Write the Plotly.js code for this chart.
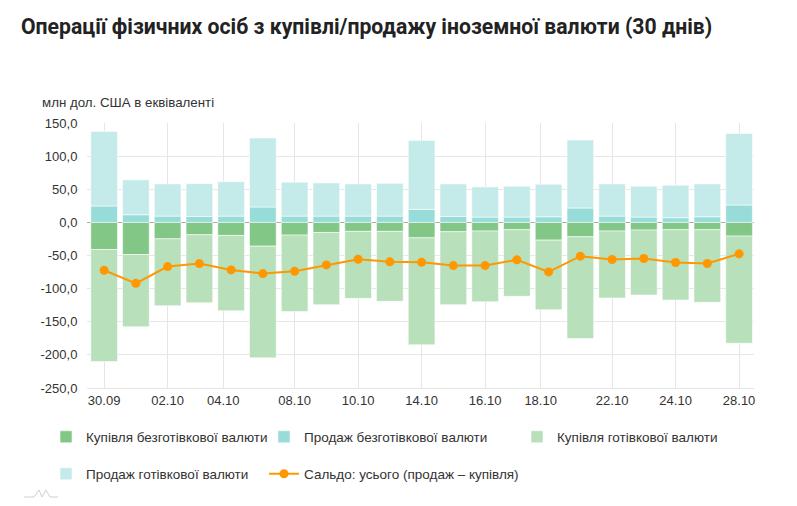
<!DOCTYPE html>
<html>
<head>
<meta charset="utf-8">
<script src="https://cdn.plot.ly/plotly-3.0.1.min.js"></script>
<style>
html,body{margin:0;padding:0;background:#fff;}
#chart{width:797px;height:506px;}
</style>
</head>
<body>
<div id="chart"></div>
<script>
// Trading days (30 days window)
const dates = ['30.09','01.10','02.10','03.10','04.10','07.10','08.10','09.10','10.10','11.10',
  '14.10','15.10','16.10','17.10','18.10','21.10','22.10','23.10','24.10','25.10','28.10'];

// Купівля безготівкової валюти (negative = purchase)
const buyCashless = [-40.9,-48.5,-24.8,-18.7,-19.7,-35.9,-19.2,-15.2,-13.6,-13.6,
  -23.3,-14.1,-13.1,-11.1,-26.8,-21.7,-13.1,-11.6,-11.1,-11.1,-20.7];
// Продаж безготівкової валюти
const sellCashless = [24.7,11.5,9.5,9.0,9.5,23.2,9.5,9.5,9.5,9.5,
  19.7,9.0,8.0,8.0,8.5,21.7,9.5,8.0,7.0,8.5,26.2];
// Купівля готівкової валюти
const buyCash = [-169.1,-109.1,-101.0,-102.5,-113.6,-168.6,-115.2,-109.1,-101.1,-105.6,
  -161.5,-110.2,-106.6,-100.5,-105.0,-153.6,-101.0,-98.0,-106.1,-109.6,-161.7];
// Продаж готівкової валюти
const sellCash = [112.6,52.6,48.5,49.5,52.0,104.1,51.1,50.0,48.5,49.5,
  104.0,49.0,45.5,46.5,49.0,102.5,48.5,46.5,49.0,49.5,108.0];
// Сальдо: усього (продаж – купівля)
const saldo = [-72.3,-92.0,-66.7,-62.2,-71.8,-77.3,-73.8,-64.2,-55.6,-59.6,
  -60.2,-65.2,-65.2,-56.6,-74.8,-51.0,-56.1,-54.6,-60.6,-62.1,-47.5];

// x-axis tick labels and where they sit (in bar index units)
const tickLabels = ['30.09','02.10','04.10','08.10','10.10','14.10','16.10','18.10','22.10','24.10','28.10'];
const tickPos = [0,2,3.75,6,8,10,12,13.75,16,18,20];

const yTicks = [150,100,50,0,-50,-100,-150,-200,-250];

const names = ['Купівля безготівкової валюти','Продаж безготівкової валюти',
  'Купівля готівкової валюти','Продаж готівкової валюти','Сальдо: усього (продаж – купівля)'];

const xIdx = dates.map((d,i)=>i);
const barLine = {color:'rgba(255,255,255,0.55)', width:1};

const traces = [
  {type:'bar', x:xIdx, y:buyCashless, name:names[0], marker:{color:'#82c785', line:barLine}, legend:'legend', customdata:dates},
  {type:'bar', x:xIdx, y:sellCashless, name:names[1], marker:{color:'#98dcd9', line:barLine}, legend:'legend2', customdata:dates},
  {type:'bar', x:xIdx, y:buyCash, name:names[2], marker:{color:'#b7e0bb', line:barLine}, legend:'legend3', customdata:dates},
  {type:'bar', x:xIdx, y:sellCash, name:names[3], marker:{color:'#c4eaea', line:barLine}, legend:'legend4', customdata:dates},
  {type:'scatter', mode:'lines+markers', x:xIdx, y:saldo, name:names[4],
   line:{color:'#ff9800', width:2}, marker:{color:'#ff9800', size:9}, legend:'legend5', customdata:dates}
];

const pw = 667, ph = 265, L = 87, T = 123;
const px = v => (v - L) / pw;          // pixel -> paper x
const py = v => (T + ph - v) / ph;     // pixel -> paper y

const legFont = {family:'"Liberation Sans", Arial, sans-serif', size:13.5, color:'#333'};
function leg(xPix, yPix){
  return {orientation:'v', x:px(xPix), y:py(yPix), xanchor:'left', yanchor:'middle',
    font:legFont, bgcolor:'rgba(0,0,0,0)', borderwidth:0, itemclick:false, itemdoubleclick:false};
}

const layout = {
  width:797, height:506,
  margin:{l:L, r:797-L-pw, t:T, b:506-T-ph, pad:0},
  paper_bgcolor:'#fff', plot_bgcolor:'#fff',
  font:{family:'"Liberation Sans", Arial, sans-serif', size:13, color:'#333'},
  title:{text:'Операції фізичних осіб з купівлі/продажу іноземної валюти (30 днів)',
    x:21/797, xref:'container', xanchor:'left', y:1-26.5/506, yref:'container', yanchor:'middle',
    font:{family:'Roboto, sans-serif', size:21.2, color:'#222', weight:700}},
  barmode:'relative', bargap:0.16,
  showlegend:true,
  legend: leg(46, 437),
  legend2: leg(264, 437),
  legend3: leg(517, 437),
  legend4: leg(46, 474),
  legend5: leg(264, 474),
  xaxis:{range:[-0.54,20.47], tickmode:'array', tickvals:tickPos, ticktext:tickLabels,
    showgrid:true, gridcolor:'#e6e6e6', gridwidth:1, zeroline:false, showline:true, linecolor:'#e6e6e6',
    ticks:'', tickfont:{size:13, color:'#333'}, fixedrange:true},
  yaxis:{range:[-250,150], tickmode:'array', tickvals:yTicks, ticktext:yTicks.map(v=>v.toFixed(1).replace('.',',')),
    showgrid:true, gridcolor:'#e6e6e6', gridwidth:1, zeroline:true, zerolinecolor:'#aaaaaa', zerolinewidth:1,
    ticks:'outside', ticklen:6, tickcolor:'rgba(0,0,0,0)', tickfont:{size:13, color:'#333'}, fixedrange:true},
  annotations:[{text:'млн дол. США в еквіваленті', xref:'paper', yref:'paper', x:px(40), y:py(102),
    xanchor:'left', yanchor:'middle', showarrow:false, font:{size:13.3, color:'#333'}}],
  shapes:[{type:'path', xref:'paper', yref:'paper', layer:'above',
    path:`M ${px(24)} ${py(497)} L ${px(34)} ${py(497)} L ${px(39)} ${py(490)} L ${px(42)} ${py(497)} L ${px(46)} ${py(490)} L ${px(50)} ${py(497)} L ${px(58)} ${py(497)}`,
    line:{color:'#cfcfcf', width:1}}]
};

Plotly.newPlot('chart', traces, layout, {displayModeBar:false, staticPlot:true});
</script>
</body>
</html>
